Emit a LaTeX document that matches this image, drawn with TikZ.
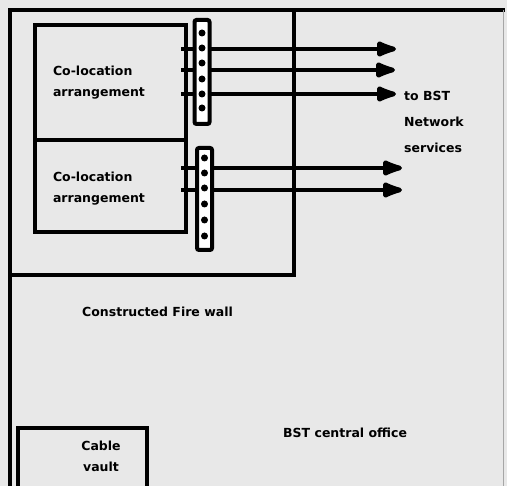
\documentclass[tikz,border=0pt]{standalone}
\usepackage{fontspec}
\setmainfont{DejaVu Sans}
\usetikzlibrary{arrows.meta}
\definecolor{paper}{gray}{0.91}
\tikzset{
  wall/.style={line width=4.5pt},
  colo/.style={draw, line width=4.5pt, minimum width=151pt, inner sep=0pt},
  termstrip/.style={draw, line width=4pt, fill=white, rounded corners=2pt,
    minimum width=15pt, inner sep=0pt},
  pin/.style={circle, fill=black, inner sep=0pt, minimum size=7pt},
  feed/.style={line width=4.5pt, -{Latex[round,length=27pt,width=18pt]}},
  lbl/.style={font=\fontsize{12.5}{21}\selectfont\bfseries, align=left, inner sep=0pt},
}
\begin{document}
\begin{tikzpicture}[x=1pt,y=-1pt]
\useasboundingbox[fill=paper] (0,0) rectangle (507,486);
% office and fire wall
\draw[wall] (10,488) -- (10,10) -- (505,10);
\draw[gray!70, line width=1pt] (503,10) -- (503,486);
\draw[wall] (10,275) -- (294,275) -- (294,10);
% co-location boxes
\node[colo, minimum height=115pt] (colA) at (110.5,82.5) {};
\node[colo, minimum height=92pt] (colB) at (110.5,186) {};
\node[lbl] (colAtext) at (99,83) {Co-location\\arrangement};
\node[lbl] (colBtext) at (99,189) {Co-location\\arrangement};
% arrow ends
\coordinate (n1) at (396,49);
\coordinate (n2) at (395,70);
\coordinate (n3) at (396,94);
\coordinate (n4) at (402,168);
\coordinate (n5) at (402,190);
\foreach \n in {n1,n2,n3}
  \draw[feed] ([xshift=-7pt]colA.east |- \n) -- (\n);
\foreach \n in {n4,n5}
  \draw[feed] ([xshift=-7pt]colB.east |- \n) -- (\n);
% terminal strips
\node[termstrip, minimum height=104pt] (strip1) at (202,72) {};
\node[termstrip, minimum height=102pt] (strip2) at (204.5,199) {};
\foreach \y [count=\i] in {33,48,63,79,94,108}
  \node[pin] (pa\i) at (202,\y) {};
\foreach \y [count=\i] in {158,173,188,204,220,236}
  \node[pin] (pb\i) at (204.5,\y) {};
% labels
\node[lbl, anchor=west, font=\fontsize{12.5}{26}\selectfont\bfseries] (netw) at (404,122) {to BST\\Network\\services};
\node[lbl, anchor=west] (fire) at (82,312) {Constructed Fire wall};
\node[lbl, anchor=west] (office) at (283,433) {BST central office};
% cable vault
\draw[line width=3.5pt] (18,488) -- (18,428) -- (147,428) -- (147,488) coordinate (vaultcorner);
\node[lbl, align=center] (vault) at (101,456) {Cable\\vault};
\end{tikzpicture}
\end{document}
